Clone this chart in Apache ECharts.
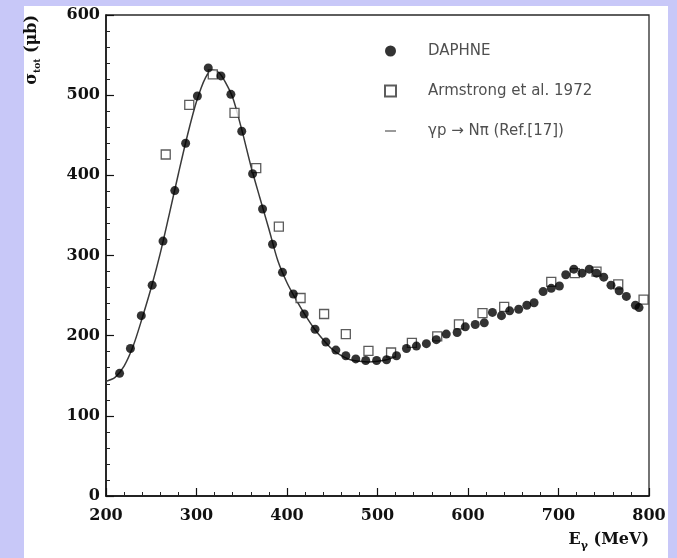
<!DOCTYPE html>
<html>
<head>
<meta charset="utf-8">
<script src="https://cdn.jsdelivr.net/npm/echarts@6/dist/echarts.min.js"></script>
<style>
html,body{margin:0;padding:0;background:#c8c8f8;}
#c{width:677px;height:558px;}
</style>
</head>
<body>
<div id="c"></div>
<script>
// ---- data ----
const daphneE = [215,227,239,251,263,276,288,301,313,327,338,350,362,373,384,395,407,419,431,443,454,465,476,487,499,510,521,532,543,554,565,576,588,597,608,618,627,637,646,656,665,673,683,692,701,708,717,726,734,742,750,758,767,775,785,789];
const daphneSigma = [153,184,225,263,318,381,440,499,534,524,501,455,402,358,314,279,252,227,208,192,182,175,171,169,169,170,175,184,187,190,195,202,204,211,214,216,229,225,231,233,238,241,255,259,262,276,283,278,283,278,273,263,256,249,238,235];

const armstrongE = [266,292,318,342,366,391,415,441,465,490,515,538,566,590,616,640,692,718,742,766,794];
const armstrongSigma = [426,488,526,478,409,336,247,227,202,181,179,191,199,214,228,236,267,278,280,264,245];

const theoryE = [200,210,220,230,240,250,260,270,280,290,300,310,318,325,332,340,350,360,370,380,390,400,410,420,430,440,450,460,470,480,490,500,510,520];
const theorySigma = [143,148,162,187,222,260,303,352,402,450,492,522,531,528,516,497,457,412,372,333,293,266,245,226,209,195,183,175,170,168,167,168,170,174];

const xMin = 200, xMax = 800, xStep = 100;
const yMin = 0, yMax = 600, yStep = 100;

const seriesNames = ['DAPHNE', 'Armstrong et al. 1972', 'γp → Nπ (Ref.[17])'];

const zip = (a, b) => a.map((v, i) => [v, b[i]]);

const serif = '"DejaVu Serif", "Liberation Serif", serif';
const sans = '"DejaVu Sans", "Liberation Sans", sans-serif';

const chart = echarts.init(document.getElementById('c'), null, {renderer: 'canvas'});

chart.setOption({
  backgroundColor: '#c8c8f8',
  animation: false,
  graphic: [{
    type: 'rect', z: -100, silent: true,
    shape: {x: 24, y: 6, width: 644, height: 560},
    style: {fill: '#ffffff'}
  }],
  grid: {
    left: 106, right: 28, top: 15, bottom: 62,
    show: true, borderColor: '#2a2a2a', borderWidth: 1.3,
    backgroundColor: 'transparent',
    containLabel: false,
    outerBoundsMode: 'none'
  },
  legend: {
    orient: 'vertical',
    left: 379, top: 37,
    itemWidth: 11, itemHeight: 11,
    itemGap: 22,
    data: [
      {name: seriesNames[0], icon: 'circle'},
      {name: seriesNames[1], icon: 'rect'},
      {name: seriesNames[2], icon: 'path://M0,0H14V2.6H0Z', itemStyle: {color: '#9a9a9a', borderWidth: 0}}
    ],
    formatter: '{sp|}{t|{name}}',
    textStyle: {
      color: '#505050', fontFamily: sans, fontSize: 15, lineHeight: 18,
      rich: {
        sp: {width: 27},
        t: {color: '#505050', fontFamily: sans, fontSize: 15, lineHeight: 18}
      }
    }
  },
  xAxis: {
    type: 'value', min: xMin, max: xMax, interval: xStep,
    name: '{b|E}{g|γ}{b| (MeV)}',
    nameLocation: 'end', nameGap: 0, nameMoveOverlap: false,
    nameTextStyle: {
      align: 'right', verticalAlign: 'top', padding: [32, 0, 0, 0],
      rich: {
        b: {fontFamily: serif, fontWeight: 'bold', fontSize: 16, color: '#111', lineHeight: 20, verticalAlign: 'bottom'},
        g: {fontFamily: serif, fontWeight: 'bold', fontSize: 11, color: '#111', lineHeight: 20, verticalAlign: 'bottom', padding: [0, 0, -4, 0]}
      }
    },
    axisLine: {show: true, lineStyle: {color: '#111', width: 1.5}},
    axisTick: {show: true, inside: true, length: 8, lineStyle: {color: '#111', width: 1.2}},
    minorTick: {show: true, splitNumber: 5, length: 4, lineStyle: {color: '#222', width: 1}},
    splitLine: {show: false},
    axisLabel: {
      margin: 12, color: '#111', fontFamily: serif, fontWeight: 'bold', fontSize: 16,
      showMinLabel: true, showMaxLabel: true, hideOverlap: false
    }
  },
  yAxis: {
    type: 'value', min: yMin, max: yMax, interval: yStep,
    name: '{s|σ}{sub|tot}{s| (μb)}',
    nameLocation: 'end', nameGap: 0, nameRotate: 90, nameMoveOverlap: false,
    nameTextStyle: {
      align: 'right', verticalAlign: 'bottom', padding: [0, 0, 64, 0],
      rich: {
        s: {fontFamily: serif, fontWeight: 'bold', fontSize: 16, color: '#111', lineHeight: 18, verticalAlign: 'top'},
        sub: {fontFamily: serif, fontWeight: 'bold', fontSize: 9, color: '#111', lineHeight: 18, verticalAlign: 'bottom'}
      }
    },
    axisLine: {show: true, lineStyle: {color: '#111', width: 1.5}},
    axisTick: {show: true, inside: true, length: 8, lineStyle: {color: '#111', width: 1.2}},
    minorTick: {show: true, splitNumber: 5, length: 4, lineStyle: {color: '#222', width: 1}},
    splitLine: {show: false},
    axisLabel: {
      margin: 6, color: '#111', fontFamily: serif, fontWeight: 'bold', fontSize: 16,
      showMinLabel: true, showMaxLabel: true
    }
  },
  series: [
    {
      name: seriesNames[2], type: 'line', data: zip(theoryE, theorySigma),
      smooth: 0.3, showSymbol: false, symbol: 'none',
      lineStyle: {color: '#3a3a3a', width: 1.5},
      itemStyle: {color: '#9a9a9a'},
      z: 2
    },
    {
      name: seriesNames[1], type: 'scatter', data: zip(armstrongE, armstrongSigma),
      symbol: 'rect', symbolSize: 9,
      itemStyle: {color: '#ffffff', borderColor: '#333', borderWidth: 1.3},
      z: 3
    },
    {
      name: seriesNames[0], type: 'scatter', data: zip(daphneE, daphneSigma),
      symbol: 'circle', symbolSize: 9,
      itemStyle: {color: '#000000'},
      z: 4
    }
  ]
});
</script>
</body>
</html>
